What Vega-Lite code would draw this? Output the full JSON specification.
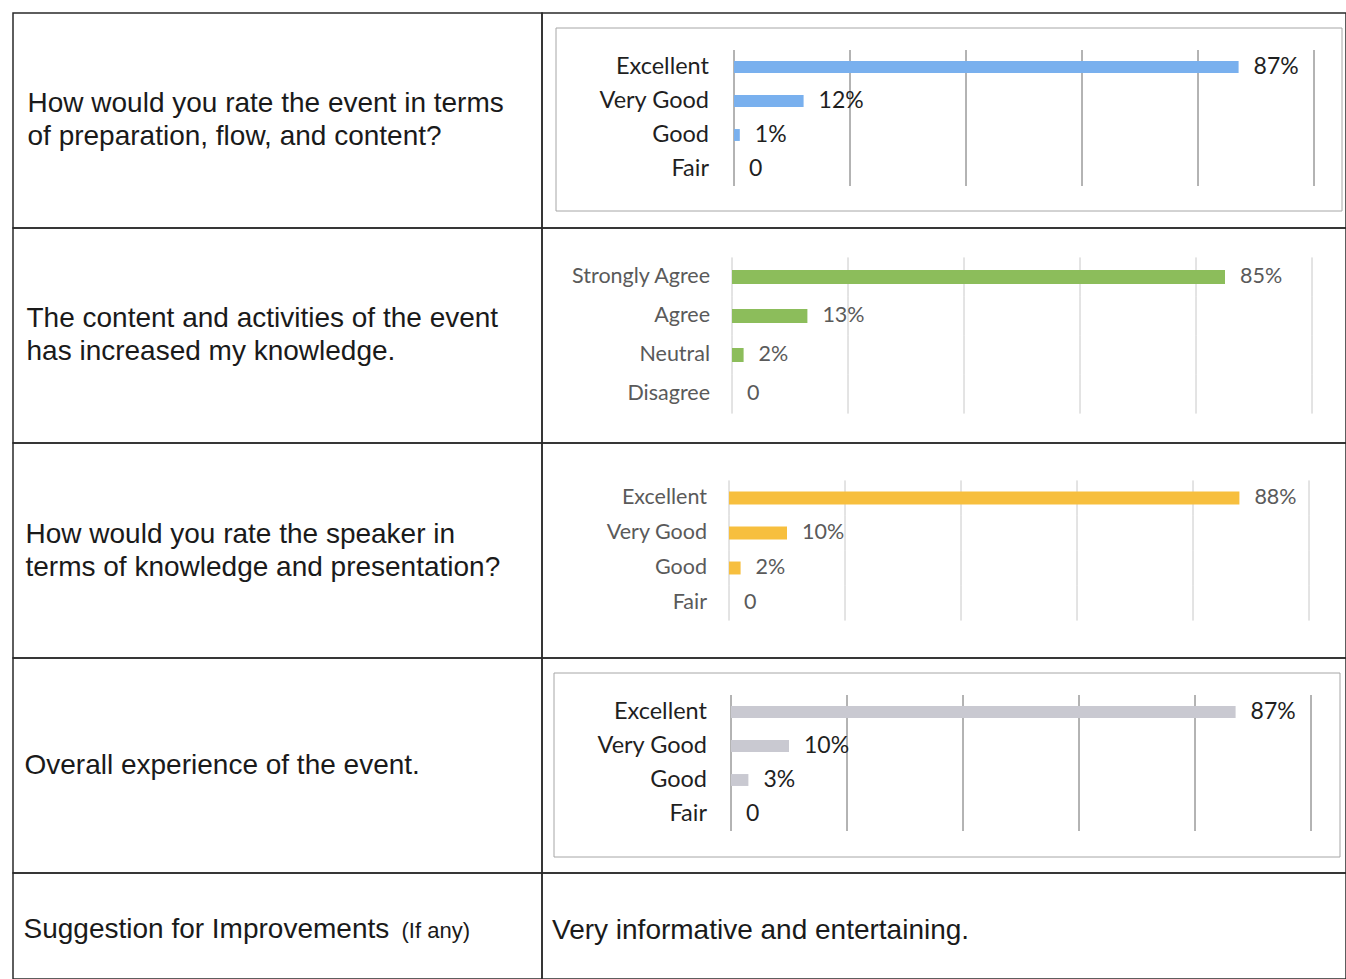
{
  "$schema": "https://vega.github.io/schema/vega-lite/v6.json",
  "padding": {"left": 12, "top": 12, "right": 0, "bottom": 0},
  "background": "white",
  "spacing": 0,
  "bounds": "flush",
  "columns": 2,
  "config": {"view": {"stroke": null}},
  "datasets": {
    "c1": [{"cat": "Excellent", "v": 87, "label": "87%"}, {"cat": "Very Good", "v": 12, "label": "12%"}, {"cat": "Good", "v": 1, "label": "1%"}, {"cat": "Fair", "v": 0, "label": "0"}],
    "c2": [{"cat": "Strongly Agree", "v": 85, "label": "85%"}, {"cat": "Agree", "v": 13, "label": "13%"}, {"cat": "Neutral", "v": 2, "label": "2%"}, {"cat": "Disagree", "v": 0, "label": "0"}],
    "c3": [{"cat": "Excellent", "v": 88, "label": "88%"}, {"cat": "Very Good", "v": 10, "label": "10%"}, {"cat": "Good", "v": 2, "label": "2%"}, {"cat": "Fair", "v": 0, "label": "0"}],
    "c4": [{"cat": "Excellent", "v": 87, "label": "87%"}, {"cat": "Very Good", "v": 10, "label": "10%"}, {"cat": "Good", "v": 3, "label": "3%"}, {"cat": "Fair", "v": 0, "label": "0"}],
    "gr": [{"cat": ["Excellent", "Very Good", "Good", "Fair"], "g": [0, 20, 40, 60, 80, 100]}],
    "ga": [{"cat": ["Strongly Agree", "Agree", "Neutral", "Disagree"], "g": [0, 20, 40, 60, 80, 100]}],
    "blank": [{}]
  },
  "concat": [
    {
      "width": 529, "height": 215,
      "view": {"stroke": "#2a2a2a", "strokeWidth": 1.5},
      "data": {"values": [{"t": ["How would you rate the event in terms", "of preparation, flow, and content?"]}]},
      "mark": {"type": "text", "align": "left", "baseline": "middle", "dx": -250, "dy": -16.5, "font": "Liberation Sans", "fontSize": 28, "lineHeight": 33, "color": "#1a1a1a"},
      "encoding": {"text": {"field": "t"}}
    },
    {
      "width": 804, "height": 215,
      "view": {"stroke": "#2a2a2a", "strokeWidth": 1.5},
      "resolve": {"scale": {"x": "independent", "y": "independent"}},
      "layer": [
        {"data": {"name": "blank"}, "mark": {"type": "rect", "fill": "transparent", "stroke": "#a6a6a6", "strokeWidth": 1},
         "encoding": {"x": {"datum": 0, "type": "quantitative", "scale": {"domain": [0, 1], "range": [14, 800]}, "axis": null}, "x2": {"datum": 1},
                      "y": {"datum": 0, "type": "quantitative", "scale": {"domain": [0, 1], "range": [15, 198]}, "axis": null}, "y2": {"datum": 1}}},
        {
          "data": {"name": "c1"},
          "encoding": {"y": {"field": "cat", "type": "nominal", "scale": {"domain": ["Excellent", "Very Good", "Good", "Fair"], "range": [37, 173], "paddingInner": 0, "paddingOuter": 0}, "axis": null}},
          "layer": [
            {"data": {"name": "gr"}, "transform": [{"flatten": ["cat"]}, {"flatten": ["g"]}],
             "mark": {"type": "rect", "fill": "transparent", "stroke": "#9a9a9a", "strokeWidth": 1},
             "encoding": {"x": {"field": "g", "type": "quantitative", "scale": {"domain": [0, 100], "range": [192, 772]}, "axis": null}, "x2": {"field": "g"}}},
            {"mark": {"type": "bar", "height": {"band": 0.35}, "color": "#79b0ee"},
             "encoding": {"x": {"field": "v", "type": "quantitative"}}},
            {"mark": {"type": "text", "align": "right", "baseline": "middle", "dx": -25, "font": "Lato", "fontSize": 23.5, "color": "#1f1f1f"},
             "encoding": {"x": {"datum": 0}, "text": {"field": "cat"}}},
            {"mark": {"type": "text", "align": "left", "baseline": "middle", "dx": 15, "font": "Lato", "fontSize": 23, "color": "#1f1f1f"},
             "encoding": {"x": {"field": "v", "type": "quantitative"}, "text": {"field": "label"}}}
          ]
        }
      ]
    },
    {
      "width": 529, "height": 215,
      "view": {"stroke": "#2a2a2a", "strokeWidth": 1.5},
      "data": {"values": [{"t": ["The content and activities of the event", "has increased my knowledge."]}]},
      "mark": {"type": "text", "align": "left", "baseline": "middle", "dx": -251, "dy": -16.5, "font": "Liberation Sans", "fontSize": 28, "lineHeight": 33, "color": "#1a1a1a"},
      "encoding": {"text": {"field": "t"}}
    },
    {
      "width": 804, "height": 215,
      "view": {"stroke": "#2a2a2a", "strokeWidth": 1.5},
      "data": {"name": "c2"},
      "encoding": {"y": {"field": "cat", "type": "nominal", "scale": {"domain": ["Strongly Agree", "Agree", "Neutral", "Disagree"], "range": [29.5, 185.5], "paddingInner": 0, "paddingOuter": 0}, "axis": null}},
      "layer": [
        {"data": {"name": "ga"}, "transform": [{"flatten": ["cat"]}, {"flatten": ["g"]}],
         "mark": {"type": "rect", "fill": "transparent", "stroke": "#dadada", "strokeWidth": 1},
         "encoding": {"x": {"field": "g", "type": "quantitative", "scale": {"domain": [0, 100], "range": [190, 770]}, "axis": null}, "x2": {"field": "g"}}},
        {"mark": {"type": "bar", "height": {"band": 0.36}, "color": "#8cbd5b"},
         "encoding": {"x": {"field": "v", "type": "quantitative"}}},
        {"mark": {"type": "text", "align": "right", "baseline": "middle", "dx": -22, "font": "Lato", "fontSize": 21.5, "color": "#5a5a5a"},
         "encoding": {"x": {"datum": 0}, "text": {"field": "cat"}}},
        {"mark": {"type": "text", "align": "left", "baseline": "middle", "dx": 15, "font": "Lato", "fontSize": 21.5, "color": "#5a5a5a"},
         "encoding": {"x": {"field": "v", "type": "quantitative"}, "text": {"field": "label"}}}
      ]
    },
    {
      "width": 529, "height": 215,
      "view": {"stroke": "#2a2a2a", "strokeWidth": 1.5},
      "data": {"values": [{"t": ["How would you rate the speaker in", "terms of knowledge and presentation?"]}]},
      "mark": {"type": "text", "align": "left", "baseline": "middle", "dx": -252, "dy": -16, "font": "Liberation Sans", "fontSize": 28, "lineHeight": 33, "color": "#1a1a1a"},
      "encoding": {"text": {"field": "t"}}
    },
    {
      "width": 804, "height": 215,
      "view": {"stroke": "#2a2a2a", "strokeWidth": 1.5},
      "data": {"name": "c3"},
      "encoding": {"y": {"field": "cat", "type": "nominal", "scale": {"domain": ["Excellent", "Very Good", "Good", "Fair"], "range": [37.5, 177.5], "paddingInner": 0, "paddingOuter": 0}, "axis": null}},
      "layer": [
        {"data": {"name": "gr"}, "transform": [{"flatten": ["cat"]}, {"flatten": ["g"]}],
         "mark": {"type": "rect", "fill": "transparent", "stroke": "#dadada", "strokeWidth": 1},
         "encoding": {"x": {"field": "g", "type": "quantitative", "scale": {"domain": [0, 100], "range": [187, 767]}, "axis": null}, "x2": {"field": "g"}}},
        {"mark": {"type": "bar", "height": {"band": 0.37}, "color": "#f7bf3e"},
         "encoding": {"x": {"field": "v", "type": "quantitative"}}},
        {"mark": {"type": "text", "align": "right", "baseline": "middle", "dx": -22, "font": "Lato", "fontSize": 21.5, "color": "#5a5a5a"},
         "encoding": {"x": {"datum": 0}, "text": {"field": "cat"}}},
        {"mark": {"type": "text", "align": "left", "baseline": "middle", "dx": 15, "font": "Lato", "fontSize": 21.5, "color": "#5a5a5a"},
         "encoding": {"x": {"field": "v", "type": "quantitative"}, "text": {"field": "label"}}}
      ]
    },
    {
      "width": 529, "height": 215,
      "view": {"stroke": "#2a2a2a", "strokeWidth": 1.5},
      "data": {"values": [{"t": "Overall experience of the event."}]},
      "mark": {"type": "text", "align": "left", "baseline": "middle", "dx": -253, "font": "Liberation Sans", "fontSize": 28, "color": "#1a1a1a"},
      "encoding": {"text": {"field": "t"}}
    },
    {
      "width": 804, "height": 215,
      "view": {"stroke": "#2a2a2a", "strokeWidth": 1.5},
      "resolve": {"scale": {"x": "independent", "y": "independent"}},
      "layer": [
        {"data": {"name": "blank"}, "mark": {"type": "rect", "fill": "transparent", "stroke": "#a6a6a6", "strokeWidth": 1},
         "encoding": {"x": {"datum": 0, "type": "quantitative", "scale": {"domain": [0, 1], "range": [12, 798]}, "axis": null}, "x2": {"datum": 1},
                      "y": {"datum": 0, "type": "quantitative", "scale": {"domain": [0, 1], "range": [15, 199]}, "axis": null}, "y2": {"datum": 1}}},
        {
          "data": {"name": "c4"},
          "encoding": {"y": {"field": "cat", "type": "nominal", "scale": {"domain": ["Excellent", "Very Good", "Good", "Fair"], "range": [37, 173], "paddingInner": 0, "paddingOuter": 0}, "axis": null}},
          "layer": [
            {"data": {"name": "gr"}, "transform": [{"flatten": ["cat"]}, {"flatten": ["g"]}],
             "mark": {"type": "rect", "fill": "transparent", "stroke": "#9a9a9a", "strokeWidth": 1},
             "encoding": {"x": {"field": "g", "type": "quantitative", "scale": {"domain": [0, 100], "range": [189, 769]}, "axis": null}, "x2": {"field": "g"}}},
            {"mark": {"type": "bar", "height": {"band": 0.35}, "color": "#c9c9d1"},
             "encoding": {"x": {"field": "v", "type": "quantitative"}}},
            {"mark": {"type": "text", "align": "right", "baseline": "middle", "dx": -24, "font": "Lato", "fontSize": 23.5, "color": "#1f1f1f"},
             "encoding": {"x": {"datum": 0}, "text": {"field": "cat"}}},
            {"mark": {"type": "text", "align": "left", "baseline": "middle", "dx": 15, "font": "Lato", "fontSize": 23, "color": "#1f1f1f"},
             "encoding": {"x": {"field": "v", "type": "quantitative"}, "text": {"field": "label"}}}
          ]
        }
      ]
    },
    {
      "width": 529, "height": 106,
      "view": {"stroke": "#2a2a2a", "strokeWidth": 1.5},
      "data": {"values": [{"t": "Suggestion for Improvements", "s": "(If any)"}]},
      "layer": [
        {"mark": {"type": "text", "align": "left", "baseline": "alphabetic", "dx": -254, "dy": 12, "font": "Liberation Sans", "fontSize": 28, "color": "#1a1a1a"},
         "encoding": {"text": {"field": "t"}}},
        {"mark": {"type": "text", "align": "left", "baseline": "alphabetic", "dx": 124, "dy": 12, "font": "Liberation Sans", "fontSize": 22, "color": "#1a1a1a"},
         "encoding": {"text": {"field": "s"}}}
      ]
    },
    {
      "width": 804, "height": 106,
      "view": {"stroke": "#2a2a2a", "strokeWidth": 1.5},
      "data": {"values": [{"t": "Very informative and entertaining."}]},
      "mark": {"type": "text", "align": "left", "baseline": "alphabetic", "dx": -392, "dy": 13, "font": "Liberation Sans", "fontSize": 28, "color": "#1a1a1a"},
      "encoding": {"text": {"field": "t"}}
    }
  ]
}
